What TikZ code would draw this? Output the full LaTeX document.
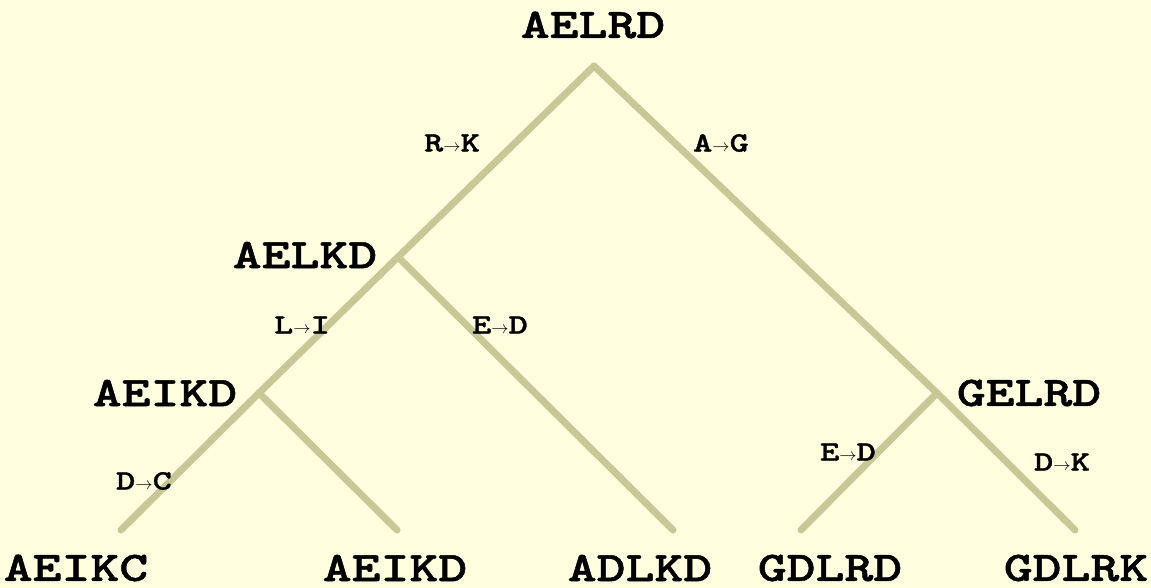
\documentclass[tikz,border=0pt]{standalone}
\usepackage{fontspec}
\newfontfamily\cour{lmmonolt10-bold}[Extension=.otf, FakeStretch=1.31, FakeBold=1.2]
\definecolor{bgc}{HTML}{FFFFE0}
\definecolor{edgec}{HTML}{C8C896}
\newcommand{\ra}{{\fontsize{19}{19}\selectfont$\rightarrow$}}
\tikzset{
  big/.style={font=\cour\fontsize{42}{42}\selectfont, inner sep=0pt, anchor=center},
  lab/.style={font=\cour\fontsize{28}{28}\selectfont, inner sep=0pt, anchor=center},
  branch/.style={draw=edgec, line width=7pt, line cap=round, line join=round}
}
\begin{document}
\begin{tikzpicture}[x=1pt,y=-1pt]
\fill[bgc] (0,0) rectangle (1151,588);
\useasboundingbox (0,0) rectangle (1151,588);
% junctions
\coordinate (r) at (594,66);
\coordinate (j1) at (398,257);
\coordinate (j2) at (259,393);
\coordinate (j3) at (937,393);
\coordinate (l1) at (121,530);
\coordinate (l2) at (397,530);
\coordinate (l3) at (673,530);
\coordinate (l4) at (801,530);
\coordinate (l5) at (1075,530);
\draw[branch] (r) -- (j1);
\draw[branch] (r) -- (j3);
\draw[branch] (j1) -- (j2);
\draw[branch] (j1) -- (l3);
\draw[branch] (j2) -- (l1);
\draw[branch] (j2) -- (l2);
\draw[branch] (j3) -- (l4);
\draw[branch] (j3) -- (l5);
% big labels
\node[big] (tr) at (593,25) {AELRD};
\node[big] (t1) at (305,255) {AELKD};
\node[big] (t2) at (165,393) {AEIKD};
\node[big] (t3) at (1029,393) {GELRD};
\node[big] (s1) at (76,568) {AEIKC};
\node[big] (s2) at (395,568) {AEIKD};
\node[big] (s3) at (640,568) {ADLKD};
\node[big] (s4) at (830,568) {GDLRD};
\node[big] (s5) at (1076,568) {GDLRK};
% mutation labels
\node[lab] (m1) at (452,143) {R\ra K};
\node[lab] (m2) at (721,143) {A\ra G};
\node[lab] (m3) at (302,325) {L\ra I};
\node[lab] (m4) at (500,325) {E\ra D};
\node[lab] (m5) at (144,481) {D\ra C};
\node[lab] (m6) at (848,452) {E\ra D};
\node[lab] (m7) at (1062,462) {D\ra K};
\end{tikzpicture}
\end{document}
